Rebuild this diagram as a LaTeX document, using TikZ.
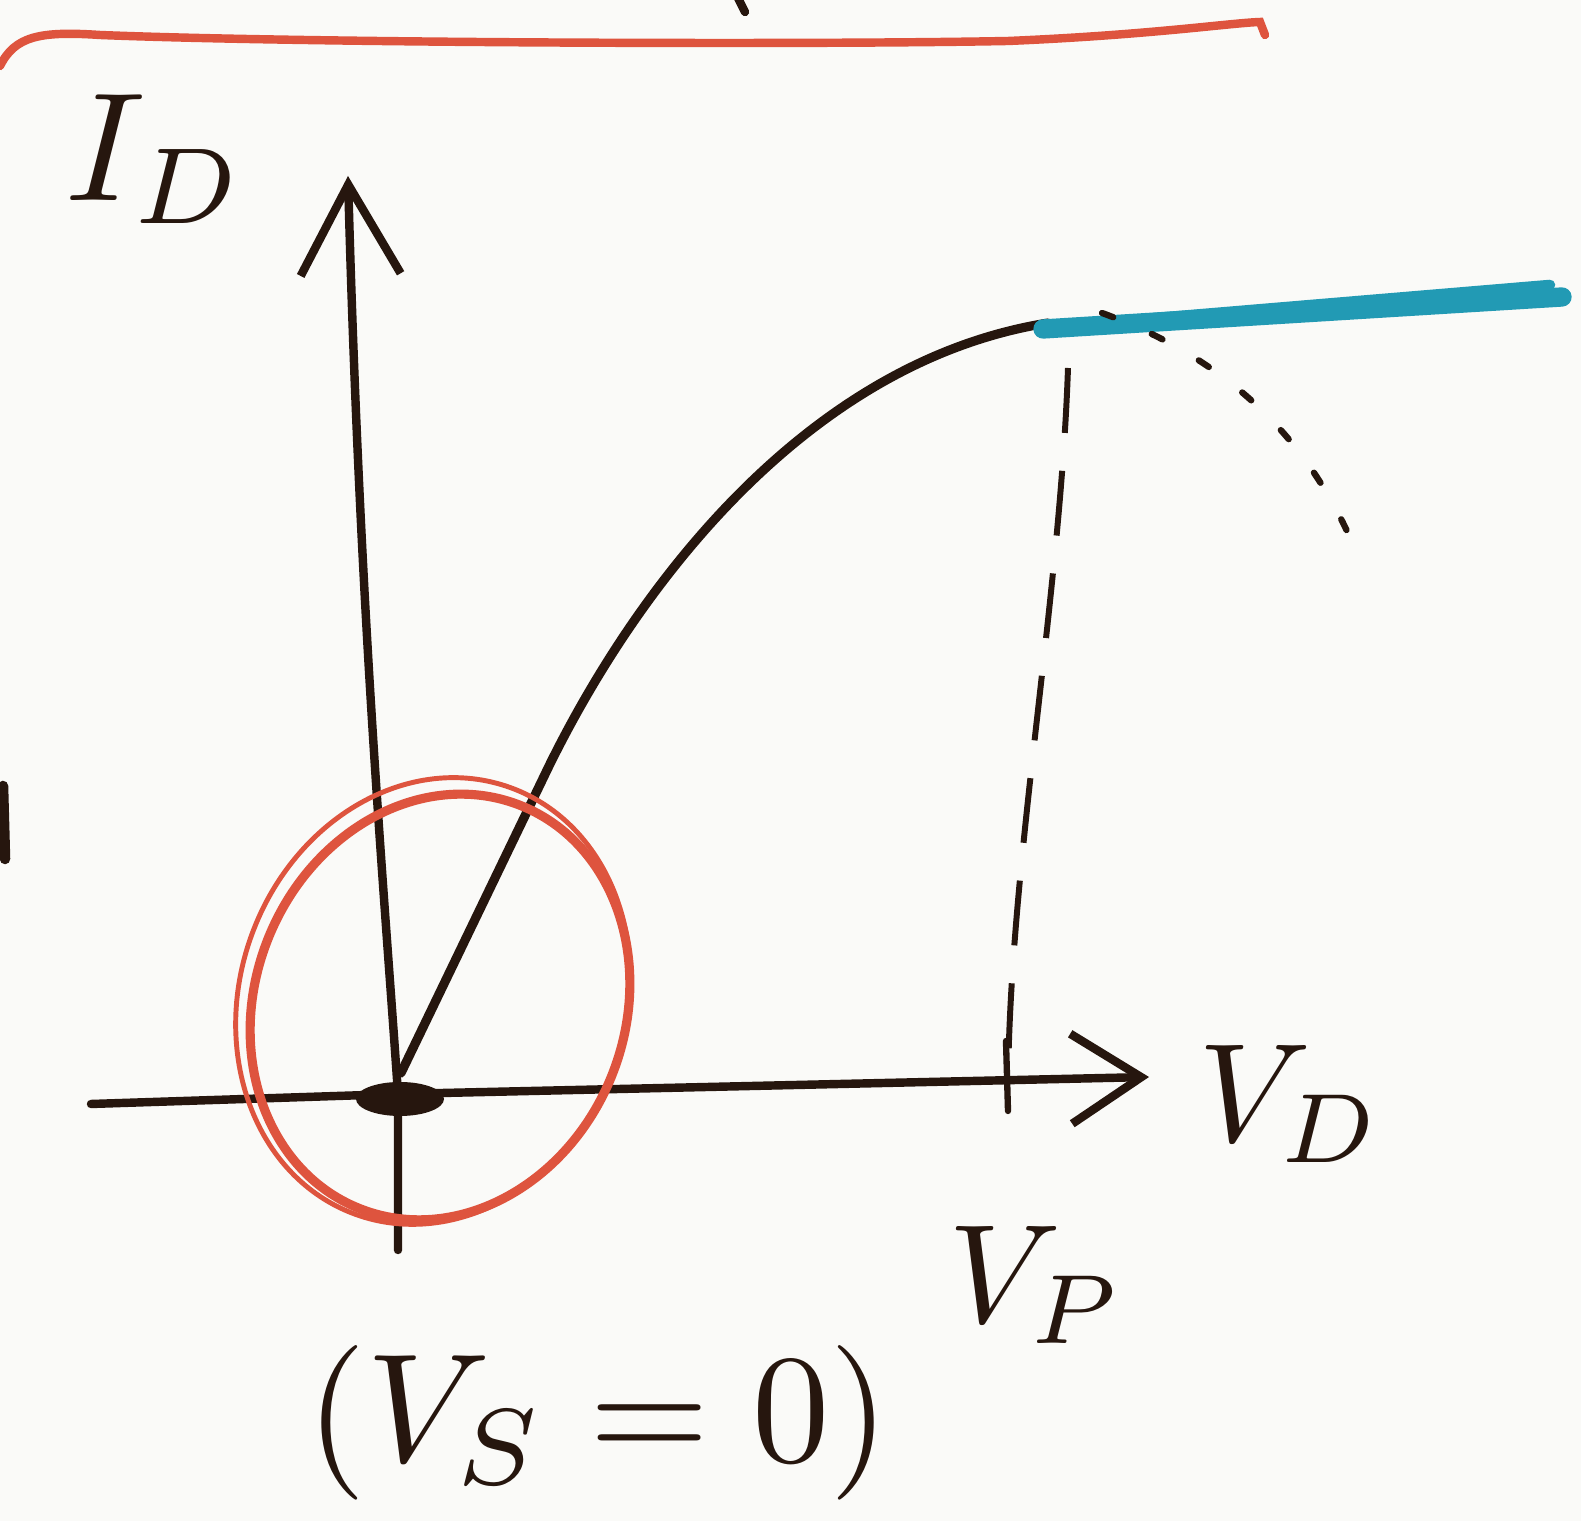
\documentclass[tikz,border=0pt]{standalone}
\usepackage{xcolor,tikz}
\usetikzlibrary{arrows.meta,positioning,calc}
\definecolor{ink}{RGB}{38,22,14}
\definecolor{redink}{RGB}{222,84,62}
\definecolor{cyanink}{RGB}{34,154,180}
\definecolor{paper}{RGB}{250,250,248}
\tikzset{ax/.style={draw=ink,line width=2.4pt,line cap=round},
 axy/.style={ax,-{Straight Barb[length=9mm,width=10mm]}},
 axx/.style={ax,-{Straight Barb[length=7mm,width=9mm]}},
 crv/.style={draw=ink,line width=2.6pt,line cap=round},
 cy/.style={draw=cyanink,line width=5.5pt,line cap=round},
 dsh/.style={draw=ink,line width=1.7pt,dash pattern=on 6.5mm off 3.8mm},
 dts/.style={draw=ink,line width=1.8pt,line cap=round,dash pattern=on 1.2mm off 4.2mm},
 rd/.style={draw=redink,line width=2.4pt,line cap=round},
 lbl/.style={text=ink,inner sep=0pt}}
\begin{document}
\begin{tikzpicture}[x=1cm,y=1cm]
\fill[paper] (0,0) rectangle (15.81,15.21);
\useasboundingbox (0,0) rectangle (15.81,15.21);
% top red stroke and stray ink
\draw[rd] (0,14.55) .. controls (0.15,14.85) and (0.4,14.9) .. (1.0,14.86)
 .. controls (3,14.78) and (8,14.76) .. (10.08,14.8) .. controls (11.5,14.86) and (12.3,14.98) .. (12.6,14.99) -- (12.65,14.86);
\draw[ax] (7.37,15.25) -- (7.45,15.09);
\draw[ax,line width=3pt] (0.03,7.35) -- (0.05,6.62);
% axes
\coordinate (o) at (3.98,4.27);
\coordinate (ybot) at (3.98,2.71);\coordinate (ytop) at (3.48,13.45);
\coordinate (xl) at (0.91,4.17);\coordinate (xr) at (11.49,4.44);
\draw[axy] (ybot) -- (o) .. controls (3.85,6.2) and (3.6,9) .. (ytop);
\draw[axx] (xl) -- (o) -- (xr);
\fill[ink] (4.0,4.22) ellipse (0.44 and 0.17);
% characteristic
\coordinate (k) at (5.49,7.55);\coordinate (p) at (10.48,11.98);\coordinate (sat) at (15.62,12.24);
\draw[crv] (4.01,4.48) -- (k) .. controls (6.4,9.4) and (8.1,11.6) .. (p);
\draw[cy] (10.43,11.92) -- (sat);
\draw[cy,line width=3pt] (11.2,12.0) -- (15.5,12.36);
% pinch-off marker
\coordinate (vtop) at (10.68,11.53);\coordinate (vp) at (10.08,4.36);
\draw[dsh] (vtop) .. controls (10.6,9.2) and (10.1,6.6) .. (vp);
\draw[ax,line width=1.8pt] (10.06,4.8) -- (10.08,4.1);
\coordinate (d0) at (11.02,12.08);\coordinate (d1) at (13.55,9.72);
\draw[dts] (d0) .. controls (12.2,11.65) and (13.05,10.9) .. (d1);
% red ring round origin
\draw[rd,line width=1.4pt,rotate around={70:(4.33,5.2)}] (4.33,5.2) ellipse (2.27 and 1.93);
\draw[rd,line width=2.6pt,rotate around={68:(4.4,5.14)}] (4.4,5.14) ellipse (2.17 and 1.85);
% labels
\node[lbl,scale=4.4] (id) at (1.56,13.62) {$I_D$};
\node[lbl,scale=4] (vd) at (12.9,4.17) {$V_D$};
\node[lbl,scale=4] (vpl) at (10.36,2.36) {$V_P$};
\node[lbl,scale=4.4] (vs) at (5.98,0.98) {$(V_S=0)$};
\end{tikzpicture}
\end{document}
